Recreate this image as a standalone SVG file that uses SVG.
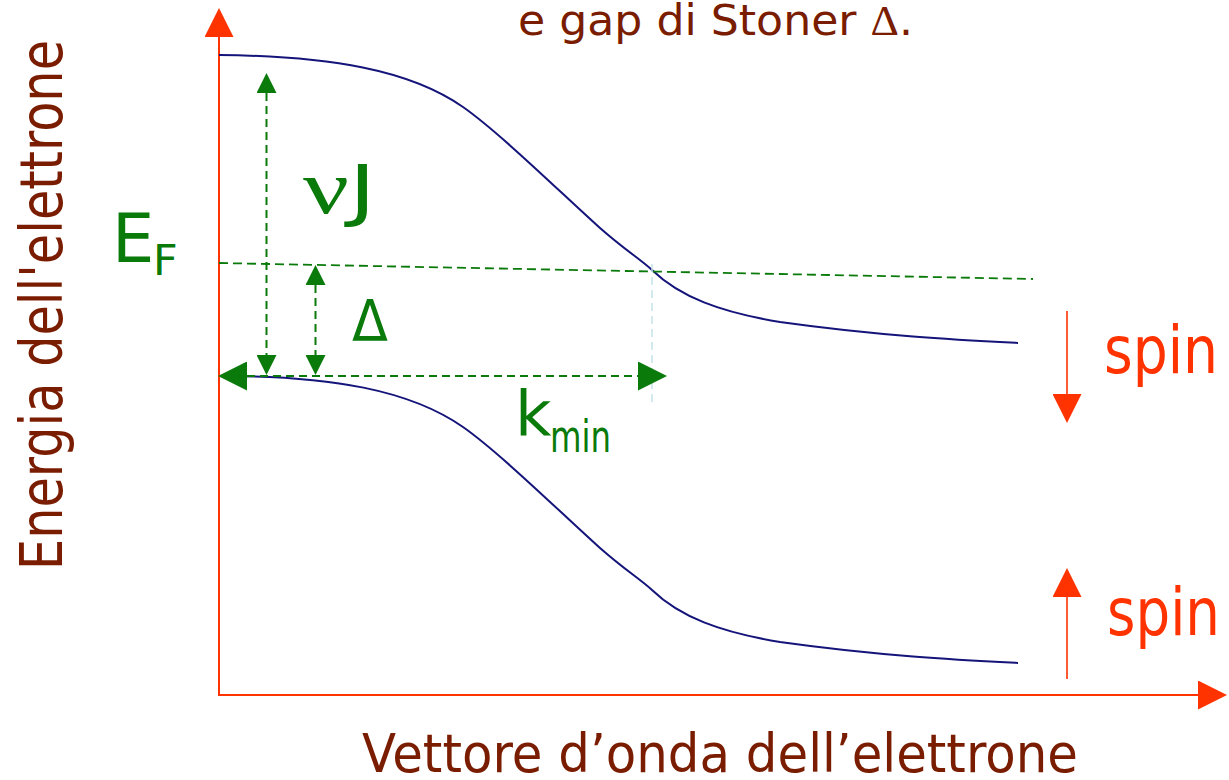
<svg xmlns="http://www.w3.org/2000/svg" width="1229" height="780" viewBox="0 0 1229 780">
<style>
.brown{fill:#7a1c00;font-family:"Comic Sans MS","DejaVu Sans",sans-serif}
.green{fill:#0a7a0a;font-family:"Comic Sans MS","DejaVu Sans",sans-serif}
.red{fill:#ff3300;font-family:"Comic Sans MS","DejaVu Sans",sans-serif}
.axis{stroke:#ff3300;stroke-width:2;fill:none}
.spinarr{stroke:#ff3300;stroke-width:1.6;fill:none}
.band{stroke:#14147a;stroke-width:2;fill:none}
.dash{stroke:#0a7a0a;stroke-width:2;stroke-dasharray:8 5;fill:none}
.ef{stroke:#0a7a0a;stroke-width:1.8;stroke-dasharray:9 5;fill:none}
.guide{stroke:#c4e2ea;stroke-width:1.5;stroke-dasharray:8 5;fill:none}
</style>
<defs>
<marker id="redHead" viewBox="0 0 29 29" refX="0" refY="14.5" markerWidth="29" markerHeight="29" markerUnits="userSpaceOnUse" orient="auto-start-reverse">
<path d="M0,0 L29,14.5 L0,29 Z" fill="#ff3300"/>
</marker>
<marker id="greenSmall" viewBox="0 0 20 20" refX="0" refY="10" markerWidth="20" markerHeight="20" markerUnits="userSpaceOnUse" orient="auto-start-reverse">
<path d="M0,0 L20,10 L0,20 Z" fill="#0a7a0a"/>
</marker>
<marker id="greenBig" viewBox="0 0 29 29" refX="0" refY="14.5" markerWidth="29" markerHeight="29" markerUnits="userSpaceOnUse" orient="auto-start-reverse">
<path d="M0,0 L29,14.5 L0,29 Z" fill="#0a7a0a"/>
</marker>
</defs>

<g id="title">
<text class="brown" x="518" y="35" font-size="42" textLength="395" lengthAdjust="spacingAndGlyphs">e gap di Stoner <tspan font-family="Liberation Serif, serif">Δ</tspan>.</text>
</g>

<g id="axes">
<line class="axis" x1="219" y1="696" x2="219" y2="37" marker-end="url(#redHead)"/>
<line class="axis" x1="218" y1="695" x2="1198" y2="695" marker-end="url(#redHead)"/>
</g>

<g id="y-label">
<text class="brown" transform="translate(62,570) rotate(-90)" x="0" y="0" font-size="58" textLength="530" lengthAdjust="spacingAndGlyphs">Energia dell'elettrone</text>
</g>
<g id="x-label">
<text class="brown" x="362" y="772" font-size="54" textLength="716" lengthAdjust="spacingAndGlyphs">Vettore d’onda dell’elettrone</text>
</g>

<g id="bands">
<path id="band-down" class="band" d="M219,55 C330,56 410,70 463,107 C500,133 560,192 600,228 C625,250 640,259 652,270 C680,297 720,312 780,322 C880,336 960,340 1018,343"/>
<path id="band-up" class="band" transform="translate(0,320)" d="M225,56 C330,56 410,70 463,107 C500,133 560,192 600,228 C625,250 640,259 652,270 C680,297 720,312 780,322 C880,336 960,340 1018,343"/>
</g>

<g id="connectors">
<line class="ef" x1="219" y1="263" x2="1033" y2="279"/>
<line class="guide" x1="652" y1="264" x2="652" y2="405"/>
<line class="dash" x1="266.5" y1="93" x2="266.5" y2="355" marker-start="url(#greenSmall)" marker-end="url(#greenSmall)"/>
<line class="dash" x1="315.5" y1="285" x2="315.5" y2="355" marker-start="url(#greenSmall)" marker-end="url(#greenSmall)"/>
<line class="dash" x1="247" y1="376" x2="638" y2="376" marker-start="url(#greenBig)" marker-end="url(#greenBig)"/>
<line class="spinarr" x1="1067" y1="311" x2="1067" y2="394" marker-end="url(#redHead)"/>
<line class="spinarr" x1="1067" y1="679" x2="1067" y2="597" marker-end="url(#redHead)"/>
</g>

<g id="label-EF">
<text class="green" x="112" y="262" font-size="67">E</text>
<text class="green" x="153" y="275" font-size="43">F</text>
</g>
<g id="label-vJ">
<text class="green" x="303" y="213" font-size="68" textLength="73" lengthAdjust="spacingAndGlyphs"><tspan font-family="Liberation Serif, serif" font-size="76">ν</tspan>J</text>
</g>
<g id="label-delta">
<text class="green" x="352" y="341" font-size="57" textLength="36" lengthAdjust="spacingAndGlyphs">Δ</text>
</g>
<g id="label-kmin">
<text class="green" x="515" y="435" font-size="63">k</text>
<text class="green" x="550" y="452" font-size="44" textLength="61" lengthAdjust="spacingAndGlyphs">min</text>
</g>
<g id="label-spin-down">
<text class="red" x="1104" y="373" font-size="66" textLength="114" lengthAdjust="spacingAndGlyphs">spin</text>
</g>
<g id="label-spin-up">
<text class="red" x="1107" y="635" font-size="66" textLength="113" lengthAdjust="spacingAndGlyphs">spin</text>
</g>
</svg>
